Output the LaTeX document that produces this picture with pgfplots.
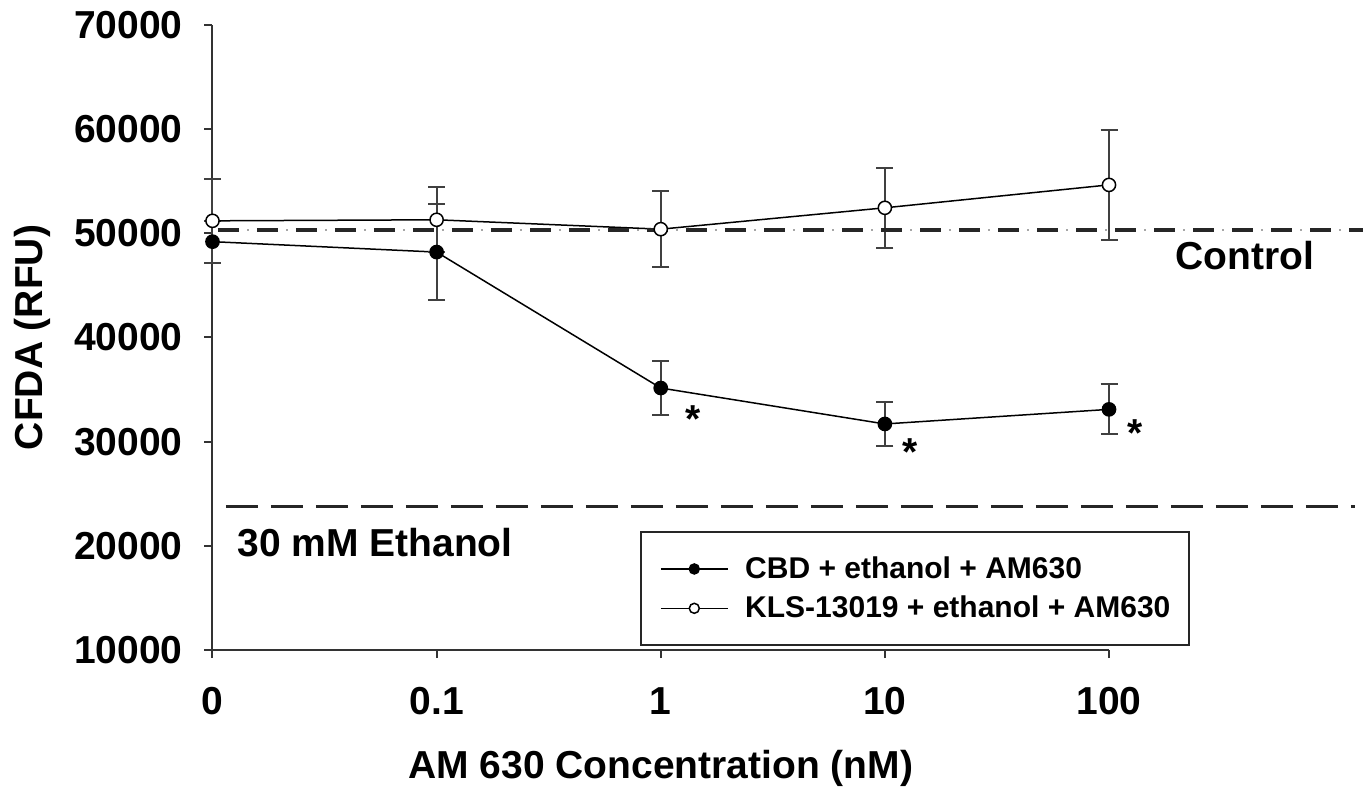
\documentclass[border=0pt]{standalone}
\usepackage{fontspec}
\setmainfont{Liberation Sans}
\usepackage{pgfplots}
\pgfplotsset{compat=1.18}
\begin{document}
\begin{tikzpicture}
\path[use as bounding box] (-106.25pt,-70.5pt) rectangle (575.25pt,325pt);
\begin{axis}[
 at={(0,0)}, anchor=south west,
 scale only axis, width=448.25pt, height=312.5pt,
 xmin=0, xmax=4, ymin=10000, ymax=70000,
 clip=false,
 axis lines=left,
 x axis line style={-}, y axis line style={-},
 axis line style={line width=1pt, black!80},
 tick style={line width=1pt, black!80},
 tick align=outside, major tick length=4pt,
 xtick={0,1,2,3,4}, xticklabels={0,0.1,1,10,100},
 ytick={10000,20000,...,70000},
 scaled y ticks=false,
 /pgf/number format/assume math mode=true,
 /pgf/number format/1000 sep={},
 ticklabel style={font=\bfseries\fontsize{19.5}{23}\selectfont, inner sep=0pt},
 yticklabel style={anchor=east, xshift=-10.75pt},
 xticklabel style={anchor=north, yshift=-14.5pt},
 xlabel={AM 630 Concentration (nM)},
 ylabel={CFDA (RFU)},
 every axis x label/.style={at={(axis description cs:0.5,-0.2048)}, anchor=base, inner sep=0pt},
 every axis y label/.style={at={(axis description cs:-0.18907,0.5)}, rotate=90, anchor=base, inner sep=0pt},
 label style={font=\bfseries\fontsize{19.5}{23}\selectfont},
 legend style={at={(axis description cs:0.4769,0.1904)}, anchor=north west,
   draw=black!85, line width=1pt,
   font=\bfseries\fontsize{15}{17}\selectfont,
   inner xsep=9.5pt, inner ysep=12.3pt, row sep=7.3pt, column sep=8.35pt,
   nodes={inner sep=0pt}},
 legend cell align=left,
 legend image code/.code={\draw[mark size=2.5pt, mark repeat=2, mark phase=2] plot coordinates {(0pt,0pt) (16.75pt,0pt) (33.5pt,0pt)};},
]
% 30 mM Ethanol reference
\addplot[forget plot, black!85, line width=1.6pt, dash pattern=on 16pt off 6.5pt] coordinates {(0.06,23750) (5.098,23750)};

\addplot[black, line width=0.75pt, mark=*, mark size=3.3pt, mark options={fill=black},
  error bars/.cd, y dir=both, y explicit,
  error bar style={line width=1pt, black!75},
  error mark options={rotate=90, mark size=4.25pt, line width=1pt, black!75}]
 coordinates {(0,49200) +- (0,2000) (1,48200) +- (0,4600) (2,35150) +- (0,2550) (3,31700) +- (0,2150) (4,33100) +- (0,2400)};
\addlegendentry{CBD + ethanol + AM630}

\addplot[black, line width=0.75pt, mark=*, mark size=3.3pt, mark options={fill=white},
  error bars/.cd, y dir=both, y explicit,
  error bar style={line width=1pt, black!75},
  error mark options={rotate=90, mark size=4.25pt, line width=1pt, black!75}]
 coordinates {(0,51200) +- (0,4000) (1,51300) +- (0,3100) (2,50400) +- (0,3650) (3,52450) +- (0,3850) (4,54650) +- (0,5250)};
\addlegendentry{KLS-13019 + ethanol + AM630}

% Control reference (dash-dot)
\addplot[forget plot, black!85, line width=2pt, dash pattern=on 10.5pt off 9pt] coordinates {(0.0245,50300) (5.134,50300)};
\addplot[forget plot, black!35, line width=1pt, dash pattern=on 0.8pt off 18.7pt, dash phase=4.9pt] coordinates {(0.0245,50300) (5.134,50300)};

\node[anchor=base, inner sep=0pt, font=\bfseries\fontsize{19.5}{23}\selectfont] at (axis cs:2.144,30870) {*};
\node[anchor=base, inner sep=0pt, font=\bfseries\fontsize{19.5}{23}\selectfont] at (axis cs:3.112,27700) {*};
\node[anchor=base, inner sep=0pt, font=\bfseries\fontsize{19.5}{23}\selectfont] at (axis cs:4.116,29560) {*};
\node[anchor=base, inner sep=0pt, font=\bfseries\fontsize{19.5}{23}\selectfont] at (axis cs:4.607,46480) {Control};
\node[anchor=base west, inner sep=0pt, font=\bfseries\fontsize{19.5}{23}\selectfont] at (axis cs:0.109,19020) {30 mM Ethanol};
\end{axis}
\end{tikzpicture}
\end{document}
